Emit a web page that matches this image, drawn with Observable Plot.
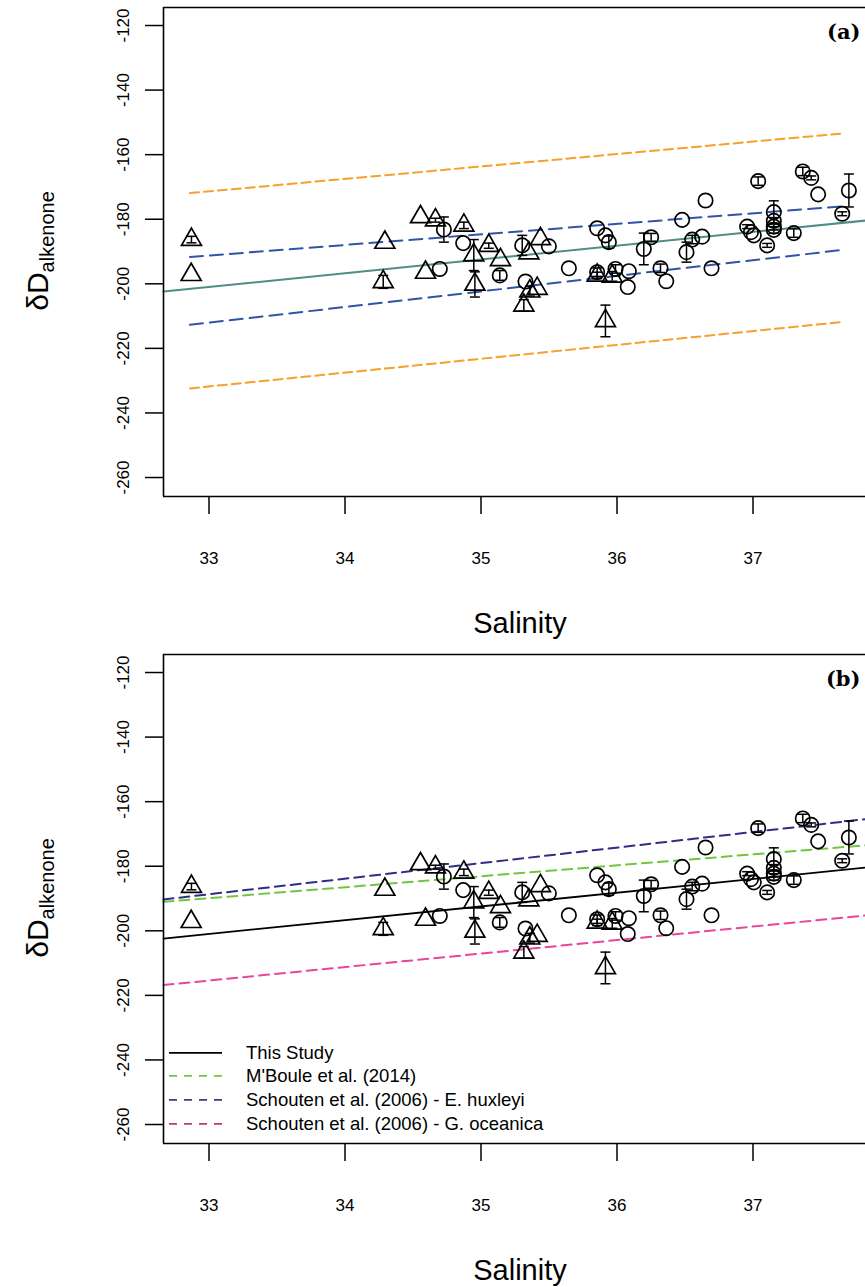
<!DOCTYPE html>
<html><head><meta charset="utf-8">
<script src="https://cdn.jsdelivr.net/npm/d3@7"></script>
<script src="https://cdn.jsdelivr.net/npm/@observablehq/plot@0.6"></script>
<style>
html,body{margin:0;padding:0;background:#fff;overflow:hidden}
#wrap{position:relative;width:865px;height:1287px}
.panel{position:absolute;left:0}
#legend{position:absolute;left:166px;top:1040.8px;font-family:"Liberation Sans",Arial,Helvetica,sans-serif;font-size:18.5px;color:#000}
.row{display:flex;align-items:center;height:23.7px;white-space:nowrap}
.row svg{flex:none}
</style></head><body>
<div id="wrap">
  <div id="pa" class="panel" style="top:0"></div>
  <div id="pb" class="panel" style="top:647px"></div>
  <div id="legend"></div>
</div>
<script>
// ---------------- data ----------------
const xTicks = [33, 34, 35, 36, 37];
const yTicks = [-260, -240, -220, -200, -180, -160, -140, -120];

// triangles: salinity, δD, error
const triSal = [32.871, 32.869, 34.293, 34.281, 34.555, 34.665, 34.592, 34.874, 34.947, 34.955, 35.057, 35.143, 35.352, 35.437, 35.413, 35.359, 35.315, 35.854, 35.965, 35.915];
const triD   = [-186.3, -197.2, -187.2, -199.4, -179.3, -180.3, -196.5, -181.9, -191.1, -200.2, -188.2, -192.6, -190.5, -186.1, -201.5, -202.3, -206.7, -197.4, -197.7, -211.5];
const triErr = [1.0, 0, 0, 2.0, 0, 0.6, 0, 1.0, 4.8, 3.9, 0.8, 0, 0, 0, 0, 1.5, 1.8, 1.0, 1.5, 4.9];

// circles: salinity, δD, error
const cirSal = [34.727, 34.697, 34.869, 35.138, 35.303, 35.499, 35.327, 35.646, 35.854, 35.915, 35.940, 35.854, 35.989, 36.087, 36.079, 36.197, 36.251, 36.320, 36.362, 36.479, 36.553, 36.626, 36.511, 36.651, 36.695, 36.957, 37.006, 36.985, 37.038, 37.104, 37.153, 37.153, 37.153, 37.153, 37.300, 37.366, 37.428, 37.479, 37.656, 37.705];
const cirD   = [-183.2, -195.4, -187.4, -197.4, -188.1, -188.4, -199.3, -195.2, -182.8, -185.0, -187.1, -196.4, -195.4, -196.1, -201.0, -189.2, -185.6, -195.2, -199.2, -180.2, -186.3, -185.4, -190.2, -174.2, -195.2, -182.3, -185.0, -184.0, -168.2, -188.1, -177.8, -180.5, -182.3, -183.3, -184.3, -165.2, -167.2, -172.3, -178.3, -171.1];
const cirErr = [3.9, 0, 0, 1.5, 3.1, 0, 0, 0, 0, 0, 1.9, 1.3, 1.3, 0, 0, 4.9, 1.2, 1.3, 0, 0, 1.3, 0, 3.1, 0, 0, 0.6, 0, 0, 1.3, 0.6, 3.5, 1.0, 1.0, 1.0, 1.3, 1.3, 0.6, 0, 0.6, 5.1];

// This study regression
const studySlope = 4.26, studyIntercept = -341.56;

// panel (a) band lines: [start, end] salinity and δD
const orangeSal = [32.86, 37.64];
const orangeUpperD = [-171.9, -153.5];
const orangeLowerD = [-232.4, -211.9];
const blueSal = [32.86, 37.66];
const blueUpperD = [-191.7, -176.0];
const blueLowerD = [-212.7, -189.5];

// panel (b) reference calibrations
const refNames = ["M'Boule et al. (2014)", "Schouten et al. (2006) - E. huxleyi", "Schouten et al. (2006) - G. oceanica"];
const refSlopes = [3.39, 4.82, 4.18];
const refIntercepts = [-301.76, -347.74, -353.35];
const refColors = ["#74c443", "#2e2e86", "#e6479a"];
const refLegendColors = ["#74c443", "#3b3b8c", "#c23a66"];

// ---------------- build ----------------
const xDomain = [32.6654, 37.8272];
const yDomain = [-265.88, -114.42];
const FONT = '"Liberation Sans", Arial, Helvetica, sans-serif';

const tri = triSal.map((s, i) => ({s, d: triD[i], e: triErr[i]}));
const cir = cirSal.map((s, i) => ({s, d: cirD[i], e: cirErr[i]}));
const pts = tri.concat(cir).filter(p => p.e > 0);
const capSymbol = {draw(ctx, size) { const w = Math.sqrt(size / Math.PI); ctx.moveTo(-w, 0); ctx.lineTo(w, 0); }};

function abline(slope, intercept) {
  return xDomain.map(s => ({s, d: intercept + slope * s}));
}
function seg(sal, ds) { return sal.map((s, i) => ({s, d: ds[i]})); }

function panel(label, lineMarks, height, marginBottom) {
  const svg = Plot.plot({
    width: 865, height, marginLeft: 163, marginRight: 0, marginTop: 7, marginBottom,
    x: {domain: xDomain},
    y: {domain: yDomain},
    style: {fontFamily: FONT, fontSize: "17px", background: "white", color: "black", overflow: "visible"},
    marks: [
      ...lineMarks,
      Plot.ruleX(pts, {x: "s", y1: p => p.d - p.e, y2: p => p.d + p.e, stroke: "black", strokeWidth: 1.5}),
      Plot.dot(pts, {x: "s", y: p => p.d - p.e, symbol: capSymbol, r: 5, stroke: "black", strokeWidth: 1.5}),
      Plot.dot(pts, {x: "s", y: p => p.d + p.e, symbol: capSymbol, r: 5, stroke: "black", strokeWidth: 1.5}),
      Plot.dot(tri, {x: "s", y: "d", symbol: "triangle", r: 7.4, stroke: "black", strokeWidth: 1.7, fill: "none"}),
      Plot.dot(cir, {x: "s", y: "d", symbol: "circle", r: 7.2, stroke: "black", strokeWidth: 1.7, fill: "none"}),
      Plot.ruleX([xDomain[0]], {stroke: "black", strokeWidth: 1.6}),
      Plot.ruleY(yDomain, {stroke: "black", strokeWidth: 1.6}),
      Plot.axisX({ticks: xTicks, tickSize: 18, tickPadding: 37, strokeWidth: 1.5, fontSize: 17, label: null, tickFormat: d => String(d)}),
      Plot.axisY({ticks: yTicks, tickSize: 18, tickPadding: 17, tickRotate: -90, strokeWidth: 1.5, fontSize: 17, label: null, tickFormat: d => String(d)}),
      Plot.text([label], {text: d => d, frameAnchor: "top-right", dx: -5, dy: 17, textAnchor: "end", lineAnchor: "top", fontFamily: "DejaVu Serif", fontWeight: "bold", fontSize: 21}),
      Plot.text(["Salinity"], {text: d => d, frameAnchor: "bottom", dx: 5.5, dy: 136, lineAnchor: "bottom", fontSize: 29})
    ]
  });
  const t = d3.select(svg).append("text")
    .attr("transform", "translate(48,251) rotate(-90)")
    .attr("text-anchor", "middle")
    .attr("font-family", FONT)
    .attr("fill", "black");
  t.append("tspan").attr("font-size", 30).text("δD");
  t.append("tspan").attr("font-size", 20).attr("dy", 6).text("alkenone");
  return svg;
}

// panel (a)
const marksA = [
  Plot.line(abline(studySlope, studyIntercept), {x: "s", y: "d", stroke: "#4f8d86", strokeWidth: 2}),
  Plot.line(seg(orangeSal, orangeUpperD), {x: "s", y: "d", stroke: "#f5a12a", strokeWidth: 2, strokeDasharray: "9,5"}),
  Plot.line(seg(orangeSal, orangeLowerD), {x: "s", y: "d", stroke: "#f5a12a", strokeWidth: 2, strokeDasharray: "9,5"}),
  Plot.line(seg(blueSal, blueUpperD), {x: "s", y: "d", stroke: "#2f55a8", strokeWidth: 2, strokeDasharray: "13,7"}),
  Plot.line(seg(blueSal, blueLowerD), {x: "s", y: "d", stroke: "#2f55a8", strokeWidth: 2, strokeDasharray: "13,7"})
];
document.getElementById("pa").appendChild(panel("(a)", marksA, 647, 151));

// panel (b)
const marksB = [
  Plot.line(abline(studySlope, studyIntercept), {x: "s", y: "d", stroke: "black", strokeWidth: 1.8}),
  ...refSlopes.map((m, i) => Plot.line(abline(m, refIntercepts[i]), {x: "s", y: "d", stroke: refColors[i], strokeWidth: 2, strokeDasharray: "10,6"}))
];
document.getElementById("pb").appendChild(panel("(b)", marksB, 640, 144));

// legend
const legendItems = [{name: "This Study", color: "black", dash: null}]
  .concat(refNames.map((n, i) => ({name: n, color: refLegendColors[i], dash: "8,7"})));
const lg = d3.select("#legend");
legendItems.forEach(it => {
  const row = lg.append("div").attr("class", "row");
  const s = row.append("svg").attr("width", 80).attr("height", 23.7);
  s.append("line").attr("x1", 3).attr("x2", 56).attr("y1", 11.85).attr("y2", 11.85)
    .attr("stroke", it.color).attr("stroke-width", 1.8).attr("stroke-dasharray", it.dash);
  row.append("span").text(it.name);
});
</script>
</body></html>
